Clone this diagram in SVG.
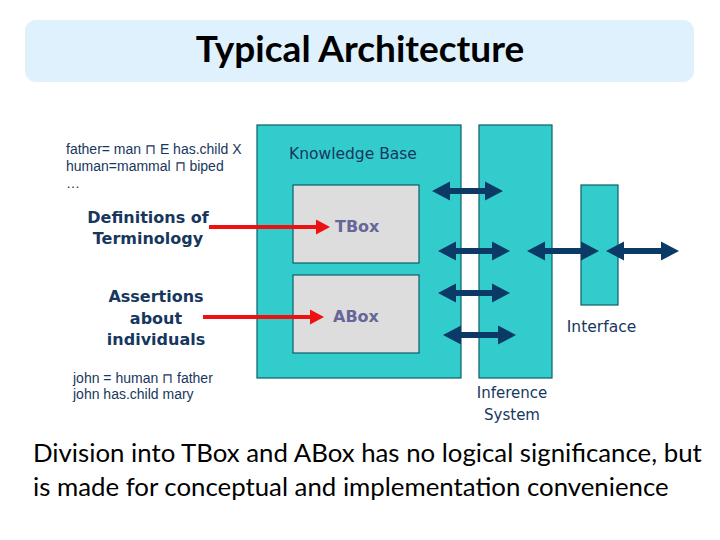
<svg xmlns="http://www.w3.org/2000/svg" width="720" height="540" viewBox="0 0 720 540">
<defs>
<style>
.teal{fill:#33cccc;stroke:#0b5f66;stroke-width:1.2}
.grey{fill:#dddddd;stroke:#0b5f66;stroke-width:1.2}
.nv{fill:#17375e;font-family:"DejaVu Sans",Verdana,sans-serif}
.small{fill:#17375e;font-family:"Liberation Sans",Arial,sans-serif;font-size:14px}
.bold{font-weight:bold;font-size:16px}
.box{fill:#666699;font-family:"DejaVu Sans",Verdana,sans-serif;font-weight:bold;font-size:16px}
.calibri{font-family:Lato,"Liberation Sans",sans-serif;fill:#000}
.dbl{fill:#0b3a66}
.red{fill:#ee1111}
</style>
</defs>
<rect width="720" height="540" fill="#ffffff"/>
<g id="title">
<rect x="25" y="20" width="669" height="62" rx="11" fill="#dff1fc"/>
<text class="calibri" x="360" y="62" text-anchor="middle" font-size="37" font-weight="bold">Typical Architecture</text>
</g>
<g id="tbox-defs">
<text class="small" x="66" y="154">father= man ⊓ E has.child X</text>
<text class="small" x="66" y="171">human=mammal ⊓ biped</text>
<text class="small" x="66" y="188">…</text>
</g>
<g id="abox-facts">
<text class="small" x="73" y="383">john = human ⊓ father</text>
<text class="small" x="73" y="399">john has.child mary</text>
</g>
<g id="definitions">
<text class="nv bold" x="148" y="223" text-anchor="middle">Definitions of</text>
<text class="nv bold" x="148" y="244" text-anchor="middle">Terminology</text>
</g>
<g id="assertions">
<text class="nv bold" x="156" y="302" text-anchor="middle">Assertions</text>
<text class="nv bold" x="156" y="324" text-anchor="middle">about</text>
<text class="nv bold" x="156" y="345" text-anchor="middle">individuals</text>
</g>
<g id="knowledge-base">
<rect class="teal" x="257" y="125" width="204" height="253"/>
<text class="nv" x="289" y="159" font-size="15.5">Knowledge Base</text>
</g>
<g id="tbox">
<rect class="grey" x="293" y="185" width="126" height="78"/>
<text class="box" x="335" y="232">TBox</text>
</g>
<g id="abox">
<rect class="grey" x="293" y="275" width="126" height="78"/>
<text class="box" x="333" y="322">ABox</text>
</g>
<g id="inference-system">
<rect class="teal" x="479" y="125" width="73" height="253"/>
<text class="nv" x="512" y="398" text-anchor="middle" font-size="15">Inference</text>
<text class="nv" x="512" y="420" text-anchor="middle" font-size="15">System</text>
</g>
<g id="interface">
<rect class="teal" x="581" y="185" width="37" height="120"/>
<text class="nv" x="601.5" y="332" text-anchor="middle" font-size="15.5">Interface</text>
</g>
<g id="connectors">
<path class="red" d="M209,225 L316,225 L316,219.5 L330,227 L316,234.5 L316,229 L209,229 Z"/>
<path class="red" d="M203,315 L310,315 L310,309.5 L324,317 L310,324.5 L310,319 L203,319 Z"/>
<path class="dbl" d="M432,191 L450,181.5 L450,188 L485,188 L485,181.5 L503,191 L485,200.5 L485,194 L450,194 L450,200.5 Z"/>
<path class="dbl" d="M438,251 L456,241.5 L456,248 L492,248 L492,241.5 L510,251 L492,260.5 L492,254 L456,254 L456,260.5 Z"/>
<path class="dbl" d="M438,293 L456,283.5 L456,290 L492,290 L492,283.5 L510,293 L492,302.5 L492,296 L456,296 L456,302.5 Z"/>
<path class="dbl" d="M443,335 L461,325.5 L461,332 L498,332 L498,325.5 L516,335 L498,344.5 L498,338 L461,338 L461,344.5 Z"/>
<path class="dbl" d="M527,251 L545,241.5 L545,248 L581,248 L581,241.5 L599,251 L581,260.5 L581,254 L545,254 L545,260.5 Z"/>
<path class="dbl" d="M606,251 L624,241.5 L624,248 L661,248 L661,241.5 L679,251 L661,260.5 L661,254 L624,254 L624,260.5 Z"/>
</g>
<g id="caption">
<text class="calibri" x="33" y="462" font-size="25.8">Division into TBox and ABox has no logical significance, but</text>
<text class="calibri" x="33" y="496" font-size="25.8">is made for conceptual and implementation convenience</text>
</g>
</svg>
